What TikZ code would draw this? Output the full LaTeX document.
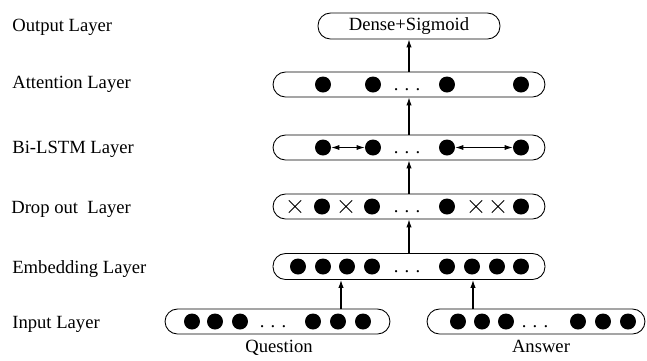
\documentclass[tikz,border=0pt]{standalone}
\usepackage{fontspec}
\setmainfont{Liberation Serif}
\usetikzlibrary{arrows.meta,shapes.misc}

\begin{document}
\begin{tikzpicture}[x=0.02cm, y=-0.02cm, >={Latex[length=4.5pt,width=3pt]},
        font=\fontsize{10.6}{12}\selectfont,
        layerbox/.style={rectangle, draw, line width=0.5pt, rounded corners=0.25cm, minimum height=0.5cm, inner sep=0pt},
        unit/.style={circle, fill=black, inner sep=0pt, minimum size=0.32cm},
        drop/.style={cross out, draw, line width=0.5pt, inner sep=0pt, minimum size=0.23cm},
        gap/.style={anchor=base, inner sep=0pt},
        lbl/.style={anchor=base west, inner sep=0pt}]
        \useasboundingbox (0,0) rectangle (647,360);

        % Layer names (left column)
        \node (lout) [lbl] at (12,31) {Output Layer};
        \node (latt) [lbl] at (12,88) {Attention Layer};
        \node (lbil) [lbl] at (12,153) {Bi-LSTM Layer};
        \node (ldrop) [lbl] at (11,213) {Drop out\ \ Layer};
        \node (lemb) [lbl] at (12,273) {Embedding Layer};
        \node (linp) [lbl] at (12,328) {Input Layer};

        % Layer boxes
        \node (out) [layerbox, minimum width=3.64cm, minimum height=0.52cm] at (409,26) {Dense+Sigmoid};
        \node (att) [layerbox, minimum width=5.44cm] at (409,84.5) {};
        \node (bil) [layerbox, minimum width=5.44cm] at (409,147.5) {};
        \node (dro) [layerbox, minimum width=5.44cm] at (409,206.5) {};
        \node (emb) [layerbox, minimum width=5.44cm, minimum height=0.52cm] at (409,266.5) {};
        \node (qin) [layerbox, minimum width=4.5cm] at (277.5,321.5) {};
        \node (ain) [layerbox, minimum width=4.36cm] at (536,321.5) {};

        % Units inside the boxes
        \foreach \x [count=\i] in {323,373,447,521} {
            \node (att\i) [unit] at (\x,84.5) {};
            \node (bil\i) [unit] at (\x,147.5) {};
        }
        \foreach \x [count=\i] in {322,372,447,521}
            \node (dro\i) [unit] at (\x,206.5) {};
        \foreach \x [count=\i] in {295,346,476,498}
            \node (drx\i) [drop] at (\x,206.5) {};
        \foreach \x [count=\i] in {298,323,347,372,447,472,497,521}
            \node (emb\i) [unit] at (\x,266.5) {};
        \foreach \x [count=\i] in {192,215,240,313,338,363}
            \node (qin\i) [unit] at (\x,321.5) {};
        \foreach \x [count=\i] in {458,482,506,578,603,628}
            \node (ain\i) [unit] at (\x,321.5) {};

        % Ellipses
        \node (gatt) [gap] at (407,90) {. . .};
        \node (gbil) [gap] at (407,153) {. . .};
        \node (gdro) [gap] at (407,212) {. . .};
        \node (gemb) [gap] at (407,272) {. . .};
        \node (gqin) [gap] at (273,327) {. . .};
        \node (gain) [gap] at (535,327) {. . .};

        % Inputs under the boxes
        \node (lq) [anchor=base, inner sep=0pt] at (279,352) {Question};
        \node (la) [anchor=base, inner sep=0pt] at (541,352) {Answer};

        % Connections between the layers
        \coordinate (qup) at (341,309);
        \coordinate (aup) at (473,309);
        \draw [->, line width=0.6pt] (qup) -- (qup |- emb.south);
        \draw [->, line width=0.6pt] (aup) -- (aup |- emb.south);
        \draw [->, line width=0.6pt] (emb.north) -- (dro.south);
        \draw [->, line width=0.6pt] (dro.north) -- (bil.south);
        \draw [->, line width=0.6pt] (bil.north) -- (att.south);
        \draw [->, line width=0.6pt] (att.north) -- (out.south);

        % Bidirectional links in the Bi-LSTM layer
        \draw [<->, >={Latex[length=4.5pt,width=2.8pt]}, line width=0.4pt] (bil1) -- (bil2);
        \draw [<->, >={Latex[length=4.5pt,width=2.8pt]}, line width=0.4pt] (bil3) -- (bil4);
    \end{tikzpicture}
\end{document}
